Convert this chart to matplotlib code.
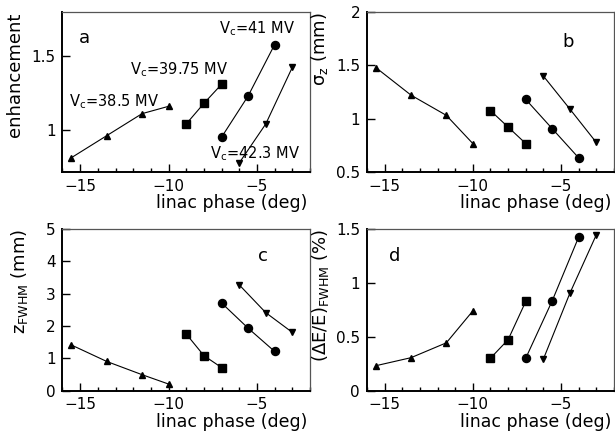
import matplotlib
matplotlib.use("Agg")
import matplotlib.pyplot as plt
from matplotlib.ticker import MultipleLocator, FuncFormatter

plt.rcParams['font.family'] = ['DejaVu Sans']
plt.rcParams['mathtext.default'] = 'regular'

# Linac phase (deg) for each cavity voltage setting
phase_385 = [-15.5, -13.5, -11.5, -10.0]
phase_3975 = [-9.0, -8.0, -7.0]
phase_41 = [-7.0, -5.5, -4.0]
phase_423 = [-6.0, -4.5, -3.0]

# (a) enhancement
enh_385 = [0.81, 0.96, 1.11, 1.16]
enh_3975 = [1.04, 1.18, 1.31]
enh_41 = [0.95, 1.23, 1.58]
enh_423 = [0.775, 1.04, 1.425]

# (b) sigma_z (mm)
sz_385 = [1.48, 1.22, 1.03, 0.765]
sz_3975 = [1.075, 0.92, 0.765]
sz_41 = [1.18, 0.905, 0.63]
sz_423 = [1.40, 1.09, 0.775]

# (c) z_FWHM (mm)
zf_385 = [1.41, 0.90, 0.49, 0.20]
zf_3975 = [1.75, 1.08, 0.71]
zf_41 = [2.71, 1.93, 1.21]
zf_423 = [3.27, 2.41, 1.80]

# (d) (dE/E)_FWHM (%)
de_385 = [0.23, 0.305, 0.443, 0.739]
de_3975 = [0.30, 0.472, 0.827]
de_41 = [0.30, 0.833, 1.425]
de_423 = [0.292, 0.903, 1.446]

voltage_labels = [r'V$_c$=38.5 MV', r'V$_c$=39.75 MV', r'V$_c$=41 MV', r'V$_c$=42.3 MV']
markers = ['^', 's', 'o', 'v']
marker_sizes = [5.0, 5.8, 5.8, 5.0]

panels = [
    dict(letter='a', ylabel='enhancement', ylim=(0.715, 1.80), yticks=[1.0, 1.5],
         series=[enh_385, enh_3975, enh_41, enh_423], letter_pos=(0.09, 0.84),
         ylabel_x=-0.192),
    dict(letter='b', ylabel=r'$\sigma_z$ (mm)', ylim=(0.5, 2.0), yticks=[0.5, 1.0, 1.5, 2.0],
         series=[sz_385, sz_3975, sz_41, sz_423], letter_pos=(0.815, 0.815),
         ylabel_x=-0.194),
    dict(letter='c', ylabel=r'z$_{FWHM}$ (mm)', ylim=(0.0, 5.0), yticks=[0, 1, 2, 3, 4, 5],
         series=[zf_385, zf_3975, zf_41, zf_423], letter_pos=(0.81, 0.835),
         ylabel_x=-0.175),
    dict(letter='d', ylabel=r'($\Delta$E/E)$_{FWHM}$ (%)', ylim=(0.0, 1.5), yticks=[0, 0.5, 1.0, 1.5],
         series=[de_385, de_3975, de_41, de_423], letter_pos=(0.113, 0.83),
         ylabel_x=-0.19),
]

phases = [phase_385, phase_3975, phase_41, phase_423]

fig = plt.figure(figsize=(6.15, 4.37), dpi=100)
rects = [
    [0.1016, 0.6071, 0.4024, 0.3648],
    [0.5967, 0.6071, 0.4016, 0.3648],
    [0.1016, 0.1064, 0.4024, 0.3696],
    [0.5967, 0.1064, 0.4016, 0.3696],
]

fmt = FuncFormatter(lambda v, p: ('%g' % v).replace('-', '\u2212'))

for rect, pan in zip(rects, panels):
    ax = fig.add_axes(rect)
    for xs, ys, m, ms in zip(phases, pan['series'], markers, marker_sizes):
        ax.plot(xs, ys, color='black', lw=0.8, marker=m, ms=ms,
                mfc='black', mec='black', clip_on=False)
    ax.set_xlim(-16, -2)
    ax.set_ylim(*pan['ylim'])
    ax.xaxis.set_major_locator(MultipleLocator(5))
    ax.xaxis.set_minor_locator(MultipleLocator(1))
    ax.set_yticks(pan['yticks'])
    ax.xaxis.set_major_formatter(fmt)
    ax.yaxis.set_major_formatter(fmt)
    ax.tick_params(axis='both', which='both', direction='in', top=False, right=False,
                   labelsize=11, width=1.0, pad=5)
    ax.tick_params(axis='both', which='major', length=6)
    ax.tick_params(axis='x', which='minor', length=3)
    for side in ['left', 'bottom']:
        ax.spines[side].set_linewidth(1.4)
    for side in ['top', 'right']:
        ax.spines[side].set_linewidth(0.9)
        ax.spines[side].set_color('#555555')
    ax.text(0.99, -0.14, 'linac phase (deg)', transform=ax.transAxes,
            ha='right', va='top', fontsize=12.5)
    ax.text(pan['ylabel_x'], 1.0, pan['ylabel'], transform=ax.transAxes,
            rotation=90, ha='center', va='top', fontsize=13)
    ax.text(*pan['letter_pos'], pan['letter'], transform=ax.transAxes,
            ha='center', va='center', fontsize=13)
    if pan['letter'] == 'a':
        label_pos = [(-13.1, 1.19), (-9.37, 1.41), (-5.0, 1.69), (-5.13, 0.836)]
        for (lx, ly), lab in zip(label_pos, voltage_labels):
            ax.text(lx, ly, lab, ha='center', va='center', fontsize=10.5)

fig.savefig('out.png', dpi=100)
